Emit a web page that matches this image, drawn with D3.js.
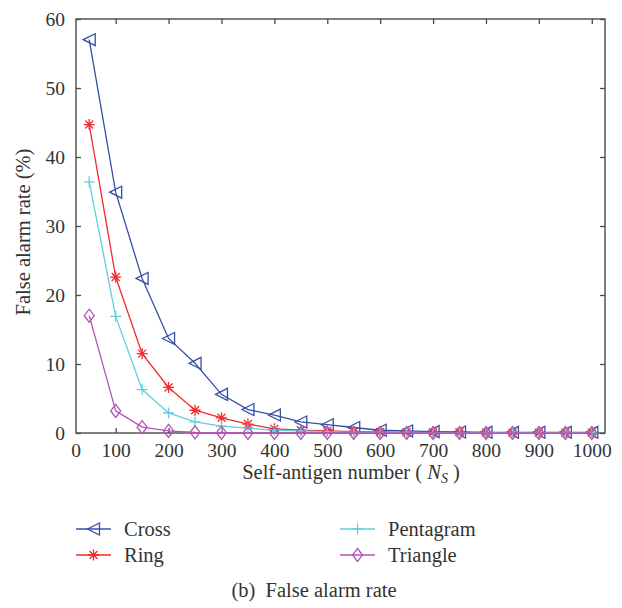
<!DOCTYPE html>
<html>
<head>
<meta charset="utf-8">
<script src="https://cdn.jsdelivr.net/npm/d3@7"></script>
<style>
  html, body { margin: 0; padding: 0; background: #fff; }
  svg { display: block; }
  #chart text { font-family: "Liberation Serif", "Times New Roman", Tinos !important; }
</style>
</head>
<body>
<svg id="chart" width="622" height="608" font-family="Liberation Serif"></svg>
<script>
// Self-antigen numbers (x) and false alarm rates (%) per detector shape
const selfAntigens = [50,100,150,200,250,300,350,400,450,500,550,600,650,700,750,800,850,900,950,1000];
const crossRate    = [57.0,34.9,22.4,13.7,10.1,5.6,3.4,2.6,1.6,1.2,0.8,0.4,0.3,0.2,0.15,0.1,0.1,0.1,0.1,0.1];
const ringRate     = [44.7,22.6,11.5,6.6,3.3,2.2,1.3,0.6,0.4,0.3,0.2,0.15,0.1,0.1,0.1,0.05,0.05,0.05,0.05,0.05];
const pentagramRate= [36.4,16.9,6.3,2.9,1.6,1.0,0.7,0.4,0.3,0.2,0.1,0.1,0.1,0.05,0.05,0.05,0.05,0.05,0.05,0.05];
const triangleRate = [17.0,3.2,0.85,0.3,0.1,0.05,0,0,0,0,0,0,0,0,0,0,0,0,0,0];
const xTicks = [100,200,300,400,500,600,700,800,900,1000];
const yTicks = [0,10,20,30,40,50,60];

const seriesNames  = ["Cross", "Ring", "Pentagram", "Triangle"];
const seriesValues = [crossRate, ringRate, pentagramRate, triangleRate];
const seriesColors = ["#3450a6", "#f52a2a", "#62cfdc", "#b552b4"];
const seriesMarks  = ["triLeft", "asterisk", "plus", "diamond"];

const textColor = "#333";
const axisColor = "#4a4a4a";
const tickFs = 19.5;
const labelFs = 20.5;

const svg = d3.select("#chart");
const box = { left: 76, top: 19, right: 605, bottom: 433 };

const x = d3.scaleLinear().domain([25, 1025]).range([box.left, box.right]);
const y = d3.scaleLinear().domain([0, 60]).range([box.bottom, box.top]);

// marker outlines, centred on 0,0
function markerPath(kind) {
  switch (kind) {
    case "triLeft": return "M-6,0L6,-6L6,6Z";
    case "diamond": return "M0,-6.5L5,0L0,6.5L-5,0Z";
    case "plus": return "M-5.5,0H5.5M0,-5.5V5.5";
    case "asterisk": return "M-5.5,0H5.5M0,-5.5V5.5M-4,-4L4,4M-4,4L4,-4";
  }
}

function addText(parent, size) {
  return parent.append("text")
    .attr("font-family", "Liberation Serif")
    .style("font-size", size + "px").attr("fill", textColor);
}

// frame
svg.append("rect")
  .attr("x", box.left).attr("y", box.top)
  .attr("width", box.right - box.left).attr("height", box.bottom - box.top)
  .attr("fill", "none").attr("stroke", axisColor).attr("stroke-width", 1.4);

// axes with inward ticks on all four sides
const fmt = d3.format("d");
const xBottom = d3.axisBottom(x).tickValues(xTicks).tickFormat(fmt).tickSizeInner(-5).tickSizeOuter(0).tickPadding(10);
const xTop = d3.axisTop(x).tickValues(xTicks).tickSizeInner(-5).tickSizeOuter(0).tickFormat("");
const yLeft = d3.axisLeft(y).tickValues(yTicks).tickFormat(fmt).tickSizeInner(-5).tickSizeOuter(0).tickPadding(11);
const yRight = d3.axisRight(y).tickValues(yTicks).tickSizeInner(-5).tickSizeOuter(0).tickFormat("");

function styleAxis(g) {
  g.attr("font-family", "Liberation Serif").attr("font-size", null);
  g.select(".domain").remove();
  g.selectAll(".tick line").attr("stroke", axisColor).attr("stroke-width", 1.3);
  g.selectAll(".tick text").attr("font-family", "Liberation Serif")
    .style("font-size", tickFs + "px").attr("fill", textColor);
}

svg.append("g").attr("transform", `translate(0,${box.bottom})`).call(xBottom).call(styleAxis);
svg.append("g").attr("transform", `translate(0,${box.top})`).call(xTop).call(styleAxis);
svg.append("g").attr("transform", `translate(${box.left},0)`).call(yLeft).call(styleAxis);
svg.append("g").attr("transform", `translate(${box.right},0)`).call(yRight).call(styleAxis);

// "0" label at the origin corner of the x axis
addText(svg, tickFs)
  .attr("x", x.range()[0]).attr("y", box.bottom + 24)
  .attr("text-anchor", "middle").text("0");

// series lines and markers
const line = d3.line().x((d, i) => x(selfAntigens[i])).y(d => y(d));
seriesValues.forEach((vals, s) => {
  const g = svg.append("g");
  g.append("path").datum(vals).attr("d", line)
    .attr("fill", "none").attr("stroke", seriesColors[s]).attr("stroke-width", 1.3);
  g.selectAll("path.m").data(vals).join("path").attr("class", "m")
    .attr("transform", (d, i) => `translate(${x(selfAntigens[i])},${y(d)})`)
    .attr("d", markerPath(seriesMarks[s]))
    .attr("fill", "none").attr("stroke", seriesColors[s]).attr("stroke-width", 1.3);
});

// axis titles
const xt = addText(svg, labelFs).attr("x", 351).attr("y", 479).attr("text-anchor", "middle");
xt.append("tspan").text("Self-antigen number ( ");
xt.append("tspan").style("font-style", "italic").text("N");
xt.append("tspan").style("font-style", "italic").style("font-size", "14px").attr("dy", 4).text("S");
xt.append("tspan").attr("dy", -4).text(" )");

addText(svg, labelFs)
  .attr("transform", "translate(30,232) rotate(-90)")
  .attr("text-anchor", "middle")
  .text("False alarm rate (%)");

// legend in two columns
const legendPos = [[76, 529], [76, 555], [340, 529], [340, 555]];
seriesNames.forEach((name, s) => {
  const [lx, ly] = legendPos[s];
  const g = svg.append("g").attr("transform", `translate(${lx},${ly})`);
  g.append("line").attr("x1", 0).attr("x2", 35).attr("y1", 0).attr("y2", 0)
    .attr("stroke", seriesColors[s]).attr("stroke-width", 1.3);
  g.append("path").attr("transform", "translate(17.5,0)").attr("d", markerPath(seriesMarks[s]))
    .attr("fill", "none").attr("stroke", seriesColors[s]).attr("stroke-width", 1.3);
  addText(g, labelFs).attr("x", 48).attr("y", 7).text(name);
});

// caption
addText(svg, 20.5).attr("x", 314).attr("y", 597).attr("text-anchor", "middle")
  .attr("xml:space", "preserve").text("(b)  False alarm rate");
</script>
</body>
</html>
